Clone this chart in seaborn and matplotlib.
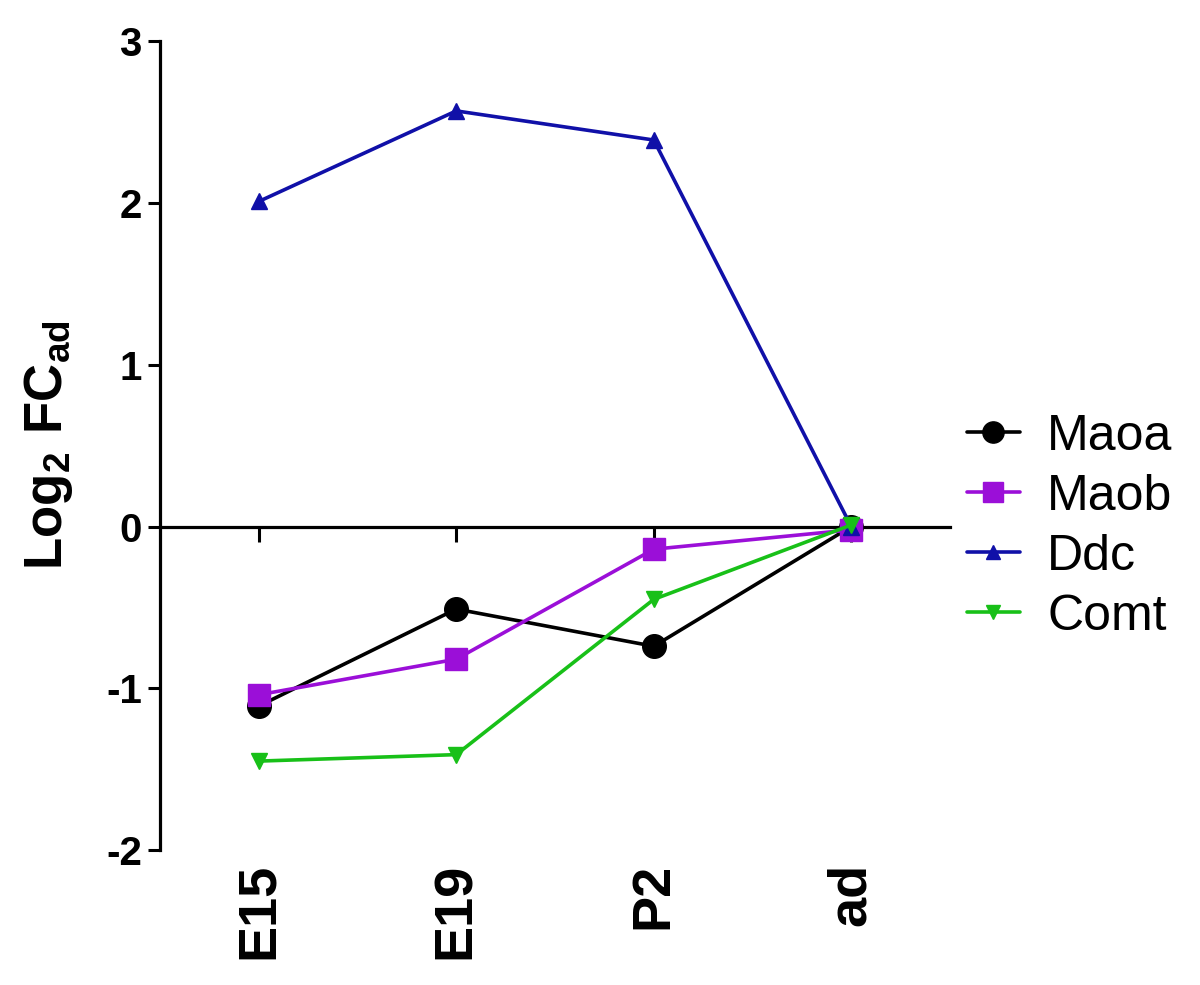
import seaborn as sns
import matplotlib.pyplot as plt
import pandas as pd

sns.set_style("white")
plt.rcParams['font.family'] = ['Liberation Sans', 'DejaVu Sans']
plt.rcParams['mathtext.fontset'] = 'custom'
plt.rcParams['mathtext.rm'] = 'Liberation Sans:bold'
plt.rcParams['mathtext.bf'] = 'Liberation Sans:bold'
plt.rcParams['mathtext.default'] = 'bf'
plt.rcParams['text.color'] = 'black'
plt.rcParams['axes.labelcolor'] = 'black'
plt.rcParams['xtick.color'] = 'black'
plt.rcParams['ytick.color'] = 'black'

# developmental stages and log2 fold change vs adult
stages = ["E15", "E19", "P2", "ad"]
maoa = [-1.11, -0.51, -0.74, 0.0]
maob = [-1.04, -0.82, -0.14, -0.02]
ddc = [2.01, 2.57, 2.39, 0.0]
comt = [-1.45, -1.41, -0.45, 0.01]

genes = ["Maoa", "Maob", "Ddc", "Comt"]
colors = ["#000000", "#9B0FD8", "#1010A8", "#18C018"]
markers = ["o", "s", "^", "v"]
msizes = [17, 16, 11, 11]

df = pd.DataFrame({"stage": stages * 4,
                   "value": maoa + maob + ddc + comt,
                   "gene": [g for g in genes for _ in stages]})

fig = plt.figure(figsize=(12, 9.85), dpi=100)
ax = fig.add_axes([0.1333, 0.137, 0.6584, 0.821])

for g, c, m, s in zip(genes, colors, markers, msizes):
    sub = df[df["gene"] == g]
    sns.lineplot(data=sub, x="stage", y="value", color=c, marker=m,
                 markersize=s, markeredgecolor=c, markeredgewidth=1,
                 linewidth=2.6, label=g, ax=ax, sort=False)

ax.set_xlim(-0.5, 3.5)
ax.set_ylim(-2, 3)
ax.set_yticks([-2, -1, 0, 1, 2, 3])
ax.set_yticklabels(["-2", "-1", "0", "1", "2", "3"], fontsize=29, fontweight="bold")
ax.set_xticks(range(len(stages)))
ax.set_xticklabels(stages, rotation=90, fontsize=39, fontweight="bold")
ax.tick_params(axis="x", length=0, pad=9)
ax.tick_params(axis="y", length=9, width=2.2, color="black", pad=4, direction="out", left=True)

for side in ["top", "right", "bottom"]:
    ax.spines[side].set_visible(False)
ax.spines["left"].set_linewidth(2.3)
ax.spines["left"].set_color("black")

# zero line with category ticks
zero = ax.secondary_xaxis(0.4)
zero.set_xticks(range(len(stages)))
zero.set_xticklabels([])
zero.tick_params(axis="x", length=11, width=2.2, color="black", direction="out", bottom=True)
zero.spines["bottom"].set_linewidth(2.3)
zero.spines["bottom"].set_color("black")

ax.set_xlabel("")
ax.set_ylabel(r"$\mathbf{Log_{2}\ FC_{ad}}$", fontsize=38, labelpad=22)

ax.legend(loc="center left", bbox_to_anchor=(0.99, 0.40), frameon=False,
          fontsize=36, handlelength=1.05, handletextpad=0.55, labelspacing=0.28,
          markerscale=0.9, borderpad=0)

fig.savefig("out.png", dpi=100)
plt.close()
